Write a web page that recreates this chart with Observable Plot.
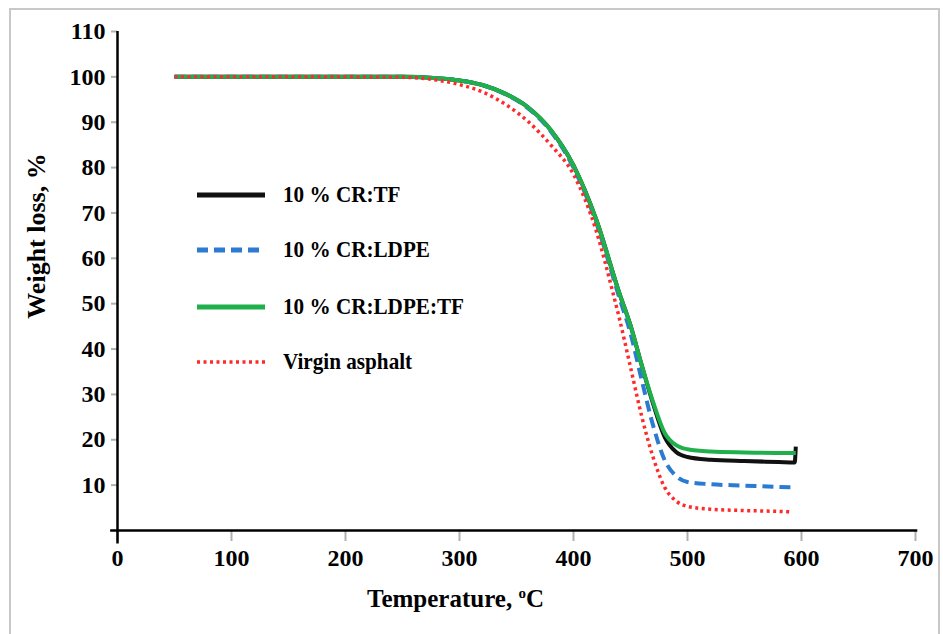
<!DOCTYPE html>
<html><head><meta charset="utf-8">
<script src="https://cdn.jsdelivr.net/npm/d3@7"></script>
<script src="https://cdn.jsdelivr.net/npm/@observablehq/plot@0.6"></script>
<style>
body{margin:0;background:#fff;overflow:hidden}
#wrap{position:relative;width:943px;height:634px;overflow:hidden}
#chart{position:absolute;left:0;top:0}
#frame{position:absolute;left:9px;top:8px;width:931px;height:660px;border:2px solid #c8c8c8;box-sizing:border-box;pointer-events:none}
#legend{position:absolute;left:0;top:0;font-family:"Liberation Serif",serif;font-weight:bold;font-size:23px;color:#000}
.row{position:absolute;white-space:nowrap;height:30px;line-height:30px}
.row svg{position:absolute;left:0;top:10px}
.row span{position:absolute;left:86px;top:0;transform:scaleX(0.92);transform-origin:0 50%}
</style></head><body>
<div id="wrap"><div id="chart"></div><div id="legend"></div><div id="frame"></div></div>
<script>
// ---- data ----
const seriesNames = ["10 % CR:TF", "10 % CR:LDPE", "10 % CR:LDPE:TF", "Virgin asphalt"];
const xTicks = [0, 100, 200, 300, 400, 500, 600, 700];
const yTicks = [10, 20, 30, 40, 50, 60, 70, 80, 90, 100, 110];

const tempCRTF = [50,100,150,200,250,280,300,320,340,360,380,400,420,440,450,460,470,480,490,500,520,550,580,594,595];
const wlCRTF   = [100,100,100,100,100,99.7,99.2,98.2,96.3,93.3,88.3,80.5,68.5,52.5,45.2,36.3,27.8,20.6,17.3,16.2,15.6,15.3,15.1,15.0,18.5];

const tempCRLDPE = [50,100,150,200,250,280,300,320,340,360,380,400,420,440,450,460,470,480,490,500,520,550,580,595];
const wlCRLDPE   = [100,100,100,100,100,99.7,99.2,98.2,96.2,93.1,88.0,80.0,67.8,51.5,43.5,33.0,23.0,15.5,12.0,10.7,10.2,9.9,9.6,9.5];

const tempCRLDPETF = [50,100,150,200,250,280,300,320,340,360,380,400,420,440,450,460,470,480,490,500,520,550,580,595];
const wlCRLDPETF   = [100,100,100,100,100,99.7,99.2,98.2,96.3,93.3,88.3,80.5,68.5,52.5,45.2,36.3,28.2,21.5,18.8,17.9,17.4,17.2,17.1,17.1];

const tempVirgin = [50,100,150,200,250,280,300,320,340,360,380,400,420,435,440,450,460,470,480,490,500,520,550,580,590];
const wlVirgin   = [100,100,100,100,99.9,99.3,98.3,96.7,94.0,90.2,85.0,78.5,66.0,52.0,47.0,36.0,25.0,16.0,9.5,6.5,5.3,4.7,4.4,4.2,4.1];

const xTitle = "Temperature, oC";
const yTitle = "Weight loss, %";

// ---- build ----
const temps = [tempCRTF, tempCRLDPE, tempCRLDPETF, tempVirgin];
const vals = [wlCRTF, wlCRLDPE, wlCRLDPETF, wlVirgin];
const styles = [
  {stroke: "#111111", strokeWidth: 4, strokeDasharray: null},
  {stroke: "#2b7bd0", strokeWidth: 4, strokeDasharray: "11,6"},
  {stroke: "#1fb04c", strokeWidth: 4, strokeDasharray: null},
  {stroke: "#ff2a2a", strokeWidth: 3.5, strokeDasharray: "3,3.5"}
];
const tables = seriesNames.map((name, i) => temps[i].map((t, j) => ({series: name, T: t, W: vals[i][j]})));

const lineMarks = tables.map((tb, i) => Plot.line(tb, {
  x: "T", y: "W", curve: "monotone-x",
  stroke: styles[i].stroke, strokeWidth: styles[i].strokeWidth,
  strokeDasharray: styles[i].strokeDasharray || undefined,
  strokeLinecap: "butt", strokeLinejoin: "round"
}));

const chart = Plot.plot({
  width: 943, height: 634,
  marginLeft: 117, marginRight: 28, marginTop: 31, marginBottom: 104,
  x: {domain: [0, 700]},
  y: {domain: [0, 110]},
  style: {fontFamily: "'Liberation Serif', serif", fontWeight: "bold", fontSize: "23px", color: "#000", background: "transparent"},
  marks: [
    Plot.axisX(xTicks, {tickSize: 11, tickPadding: 7, stroke: "#b0b0b0", strokeWidth: 2, fill: "#000", fontSize: 24, label: null}),
    Plot.axisY(yTicks, {tickSize: 6, tickPadding: 6, stroke: "#b0b0b0", strokeWidth: 2, fill: "#000", fontSize: 24, label: null}),
    Plot.ruleX([0], {y1: -3, y2: 110, stroke: "#000", strokeWidth: 2.5}),
    Plot.ruleY([0], {x1: -6, x2: 702, stroke: "#000", strokeWidth: 2.5}),
    ...lineMarks,
    Plot.text([xTitle], {frameAnchor: "bottom", textAnchor: "middle", dx: -61, dy: 76, fontSize: 25, fill: "#000"}),
    Plot.text([yTitle], {frameAnchor: "left", textAnchor: "middle", rotate: -90, dx: -81, dy: -45, fontSize: 26, fill: "#000"})
  ]
});
document.getElementById("chart").appendChild(chart);

// superscript o in x title
d3.select(chart).selectAll("text").filter(function(){ return this.textContent === xTitle; }).each(function(){
  const t = d3.select(this);
  t.text(null);
  t.append("tspan").text("Temperature, ");
  t.append("tspan").attr("font-size", 15).attr("dy", -9).text("o");
  t.append("tspan").attr("dy", 9).text("C");
});

// legend
const legend = d3.select("#legend");
const rowTops = [180, 235, 292, 347];
seriesNames.forEach((name, i) => {
  const row = legend.append("div").attr("class", "row").style("left", "197px").style("top", rowTops[i] + "px");
  const s = row.append("svg").attr("width", 70).attr("height", 10);
  s.append("line").attr("x1", 0).attr("x2", 68).attr("y1", 5).attr("y2", 5)
    .attr("stroke", styles[i].stroke).attr("stroke-width", i === 3 ? 3.5 : 5)
    .attr("stroke-dasharray", styles[i].strokeDasharray);
  row.append("span").text(name);
});
</script>
</body></html>
